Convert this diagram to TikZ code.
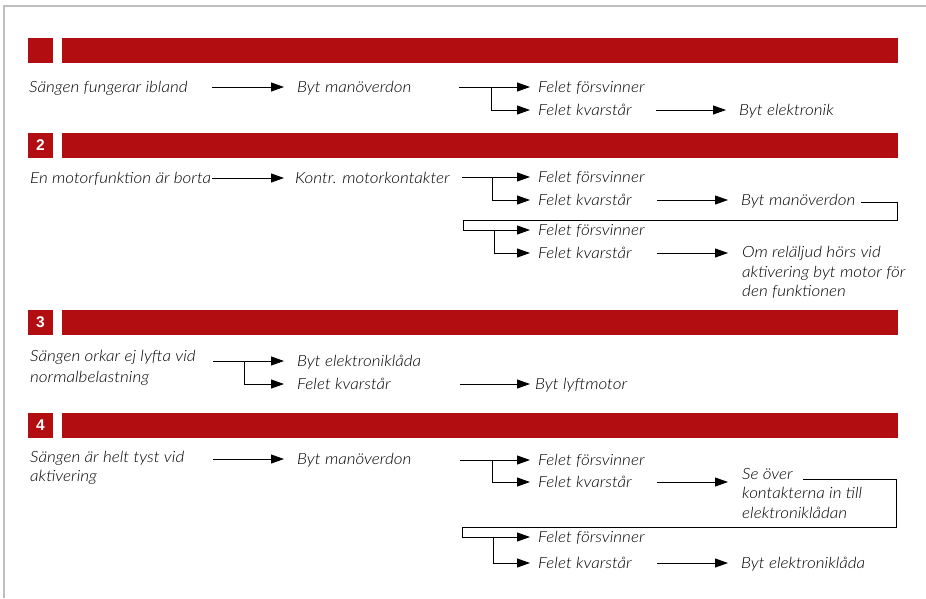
\documentclass[tikz,border=0pt]{standalone}
\usepackage{fontspec}
\setmainfont{Lato Light}[FakeStretch=1.1]
\newfontfamily\numfont{Liberation Sans}
\usetikzlibrary{arrows.meta}
\definecolor{barred}{RGB}{178,14,18}
\definecolor{framegray}{RGB}{190,190,190}

\begin{document}
\begin{tikzpicture}
[   x=1pt,y=-1pt,
    txt/.style={anchor=west,inner xsep=0pt,inner ysep=0pt,font=\fontsize{15.5}{19.5}\selectfont\itshape,text height=11.2pt,text depth=0pt},
    opt/.style={txt,inner xsep=8pt},
    act/.style={txt,inner xsep=13pt},
    blk/.style={anchor=base west,inner xsep=#1,inner ysep=0pt,align=left,font=\fontsize{15.5}{19.5}\selectfont\itshape},
    blk/.default=0pt,
    numbox/.style={fill=barred,text=white,minimum width=25pt,minimum height=24.5pt,inner sep=0pt,font=\numfont\bfseries\fontsize{15.5}{15.5}\selectfont},
    arr/.style={-{Triangle[length=13pt,width=9pt]},line width=0.9pt},
]
    \useasboundingbox (0,0) rectangle (926,598);
    \draw[framegray,line width=1.5pt] (4,598) -- (4,6) -- (926,6);

%%%%%%%%%%%%%%%%%%%% HEADER BARS %%%%%%%%%%%%%%%%%%%%%%%%%%%%%%%%%%%
    \foreach \k/\y in {1/38,2/133,3/310,4/413}
    {
        \node[numbox] (num\k) at (40.5,\y+12.3) {\ifnum\k>1 \k\fi};
        \fill[barred] (62,\y) rectangle (898,\y+24.5);
    }

%%%%%%%%%%%%%%%%%%%% SECTION 1 %%%%%%%%%%%%%%%%%%%%%%%%%%%%%%%%%%%
    \node[txt] (q1) at (29,87) {Sängen fungerar ibland};
    \node[act] (b1) at (284,87) {Byt manöverdon};
    \node[opt] (f1) at (530,87) {Felet försvinner};
    \node[opt] (g1) at (530,110) {Felet kvarstår};
    \node[act] (e1) at (726,110) {Byt elektronik};
    \coordinate (a1) at (212,87);
    \coordinate (j1) at (459,87);
    \coordinate (k1) at (491,87);
    \coordinate (h1) at (656,110);
    \draw[arr] (a1) -- (b1);
    \draw[arr] (j1) -- (f1);
    \draw[arr] (k1) |- (g1);
    \draw[arr] (h1) -- (e1);

%%%%%%%%%%%%%%%%%%%% SECTION 2 %%%%%%%%%%%%%%%%%%%%%%%%%%%%%%%%%%%
    \node[txt] (q2) at (30,178) {En motorfunktion är borta};
    \node[act,inner xsep=11pt] (b2) at (284,178) {Kontr. motorkontakter};
    \node[opt] (f2) at (530,177) {Felet försvinner};
    \node[opt] (g2) at (530,200) {Felet kvarstår};
    \node[act] (m2) at (728,200) {Byt manöverdon};
    \node[opt] (f2b) at (530,230) {Felet försvinner};
    \node[opt] (g2b) at (530,253) {Felet kvarstår};
    \node[blk=14pt] (o2) at (728,296.5) {Om reläljud hörs vid\\aktivering byt motor för\\den funktionen};
    \coordinate (a2) at (212,178);
    \coordinate (j2) at (462,177);
    \coordinate (k2) at (492,177);
    \coordinate (h2) at (657,200);
    \coordinate (l2) at (861,202);
    \coordinate (k2b) at (494,230);
    \coordinate (h2b) at (657,253);
    \draw[arr] (a2) -- (b2);
    \draw[arr] (j2) -- (f2);
    \draw[arr] (k2) |- (g2);
    \draw[arr] (h2) -- (m2);
    \draw[arr] (l2) -- (897,202) -- (897,220) -- (463,220) |- (f2b);
    \draw[arr] (k2b) |- (g2b);
    \draw[arr] (h2b) -- (h2b -| o2.west);

%%%%%%%%%%%%%%%%%%%% SECTION 3 %%%%%%%%%%%%%%%%%%%%%%%%%%%%%%%%%%%
    \node[blk] (q3) at (30,382.5) {Sängen orkar ej lyfta vid\\[2pt]normalbelastning};
    \node[act] (b3) at (284,361) {Byt elektroniklåda};
    \node[act] (g3) at (284,384) {Felet kvarstår};
    \node[txt,inner xsep=5pt] (l3) at (530,384) {Byt lyftmotor};
    \coordinate (j3) at (213,361);
    \coordinate (k3) at (244,361);
    \coordinate (h3) at (460,384);
    \draw[arr] (j3) -- (b3);
    \draw[arr] (k3) |- (g3);
    \draw[arr] (h3) -- (l3);

%%%%%%%%%%%%%%%%%%%% SECTION 4 %%%%%%%%%%%%%%%%%%%%%%%%%%%%%%%%%%%
    \node[blk] (q4) at (30,481.5) {Sängen är helt tyst vid\\aktivering};
    \node[act] (b4) at (284,459) {Byt manöverdon};
    \node[opt] (f4) at (530,460) {Felet försvinner};
    \node[opt] (g4) at (530,482) {Felet kvarstår};
    \node[blk=14pt] (se4) at (728,518) {Se över\\kontakterna in till\\elektroniklådan};
    \node[opt] (f4b) at (530,537) {Felet försvinner};
    \node[opt] (g4b) at (530,563) {Felet kvarstår};
    \node[act] (e4) at (728,563) {Byt elektroniklåda};
    \coordinate (a4) at (213,459);
    \coordinate (j4) at (460,460);
    \coordinate (k4) at (492,460);
    \coordinate (h4) at (657,482);
    \coordinate (l4) at (803,479);
    \coordinate (k4b) at (493,537);
    \coordinate (h4b) at (657,563);
    \draw[arr] (a4) -- (b4);
    \draw[arr] (j4) -- (f4);
    \draw[arr] (k4) |- (g4);
    \draw[arr] (h4) -- (h4 -| se4.west);
    \draw[arr] (l4) -- (896,479) -- (896,527) -- (462,527) |- (f4b);
    \draw[arr] (k4b) |- (g4b);
    \draw[arr] (h4b) -- (e4);

\end{tikzpicture}
\end{document}
